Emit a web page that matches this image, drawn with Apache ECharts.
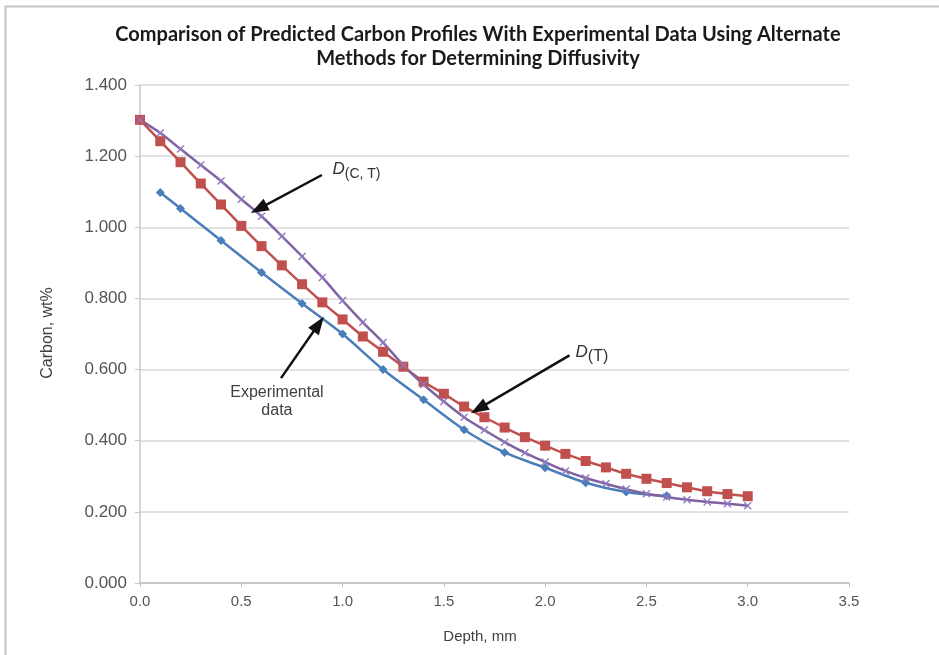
<!DOCTYPE html>
<html>
<head>
<meta charset="utf-8">
<script src="https://cdn.jsdelivr.net/npm/echarts@6/dist/echarts.min.js"></script>
<style>
  html, body { margin: 0; padding: 0; background: #fff; }
  #chart { width: 939px; height: 655px; }
</style>
</head>
<body>
<div id="chart"></div>
<script>
// depth, mm
var depthModel = [0.0, 0.1, 0.2, 0.3, 0.4, 0.5, 0.6, 0.7, 0.8, 0.9, 1.0, 1.1, 1.2, 1.3, 1.4, 1.5,
    1.6, 1.7, 1.8, 1.9, 2.0, 2.1, 2.2, 2.3, 2.4, 2.5, 2.6, 2.7, 2.8, 2.9, 3.0];
var depthExp = [0.1, 0.2, 0.4, 0.6, 0.8, 1.0, 1.2, 1.4, 1.6, 1.8, 2.0, 2.2, 2.4, 2.6];

// carbon, wt%
var carbonExp = [1.098, 1.053, 0.963, 0.873, 0.786, 0.700, 0.600, 0.515, 0.431, 0.367, 0.324, 0.282, 0.256, 0.245];
var carbonDT = [1.302, 1.242, 1.183, 1.123, 1.064, 1.004, 0.947, 0.893, 0.840, 0.789, 0.741, 0.693, 0.650, 0.608,
    0.566, 0.532, 0.496, 0.466, 0.437, 0.410, 0.386, 0.363, 0.343, 0.325, 0.307, 0.293, 0.281, 0.269, 0.258, 0.250, 0.244];
var carbonDCT = [1.302, 1.265, 1.220, 1.175, 1.130, 1.079, 1.031, 0.975, 0.918, 0.859, 0.794, 0.733, 0.676, 0.612,
    0.558, 0.510, 0.466, 0.430, 0.396, 0.366, 0.340, 0.315, 0.295, 0.279, 0.264, 0.251, 0.242, 0.234, 0.228, 0.223, 0.217];

var xTicks = ['0.0', '0.5', '1.0', '1.5', '2.0', '2.5', '3.0', '3.5'];
var yTicks = ['0.000', '0.200', '0.400', '0.600', '0.800', '1.000', '1.200', '1.400'];

// annotations: [from, to] in data coords
var arrowDCT = [[0.898, 1.147], [0.586, 1.052]];
var arrowExp = [[0.696, 0.576], [0.882, 0.728]];
var arrowDT = [[2.120, 0.640], [1.672, 0.490]];
var labelDCT = [0.950, 1.162];
var labelDT = [2.150, 0.648];
var labelExp = [0.676, 0.510];

function pairs(xs, ys) {
    var out = [];
    for (var i = 0; i < xs.length; i++) out.push([xs[i], ys[i]]);
    return out;
}

var FONT = "'Liberation Sans', Arial, sans-serif";
var xMarker = 'path://M0,1.2L1.2,0L5,3.8L8.8,0L10,1.2L6.2,5L10,8.8L8.8,10L5,6.2L1.2,10L0,8.8L3.8,5Z';
var chart = echarts.init(document.getElementById('chart'));

var option = {
    animation: false,
    backgroundColor: '#fff',
    grid: { left: 140, right: 90, top: 85, bottom: 72 },
    graphic: [
        {
            type: 'rect', silent: true, z: -1,
            shape: { x: 5.5, y: 6.5, width: 1200, height: 1200 },
            style: { fill: 'none', stroke: '#c4c4c4', lineWidth: 2 }
        },
        {
            type: 'text', x: 478, y: 23,
            style: {
                text: 'Comparison of Predicted Carbon Profiles With Experimental Data Using Alternate\nMethods for Determining Diffusivity',
                font: "bold 20px Lato, 'Noto Sans', sans-serif",
                fill: '#1a1a1a', textAlign: 'center', lineHeight: 24
            }
        },
        {
            type: 'text', x: 48, y: 333, rotation: Math.PI / 2,
            style: {
                text: 'Carbon, wt%', font: '16px ' + FONT, fill: '#404040',
                textAlign: 'center', textVerticalAlign: 'middle'
            }
        },
        {
            type: 'text', x: 480, y: 637,
            style: {
                text: 'Depth, mm', font: '15px ' + FONT, fill: '#404040',
                textAlign: 'center', textVerticalAlign: 'middle'
            }
        }
    ],
    xAxis: {
        type: 'value', min: 0, max: 3.5, interval: 0.5,
        axisLine: { lineStyle: { color: '#c0c0c0', width: 1.5 } },
        axisTick: { show: true, length: 4, lineStyle: { color: '#c0c0c0' } },
        axisLabel: {
            margin: 11, fontFamily: FONT, fontSize: 15, color: '#555',
            formatter: function (v) { return xTicks[Math.round(v / 0.5)]; }
        },
        splitLine: { show: false }
    },
    yAxis: {
        type: 'value', min: 0, max: 1.4, interval: 0.2,
        axisLine: { show: true, lineStyle: { color: '#c8c8c8', width: 1.5 } },
        axisTick: { show: true, length: 5, lineStyle: { color: '#c8c8c8' } },
        axisLabel: {
            margin: 13, fontFamily: FONT, fontSize: 17, color: '#555',
            formatter: function (v) { return yTicks[Math.round(v / 0.2)]; }
        },
        splitLine: { lineStyle: { color: '#d9d9d9', width: 1.5 } }
    },
    series: [
        {
            name: 'Experimental data', type: 'line', smooth: 0.3,
            data: pairs(depthExp, carbonExp),
            symbol: 'diamond', symbolSize: 9,
            itemStyle: { color: '#4a7ebb' },
            lineStyle: { color: '#4a7ebb', width: 2.5 },
            markLine: {
                silent: true, symbol: ['none', 'triangle'], symbolSize: [13, 18],
                label: { show: false },
                lineStyle: { color: '#111', width: 2.5, type: 'solid' },
                data: [
                    [{ coord: arrowDCT[0] }, { coord: arrowDCT[1] }],
                    [{ coord: arrowExp[0] }, { coord: arrowExp[1] }],
                    [{ coord: arrowDT[0] }, { coord: arrowDT[1] }]
                ]
            },
            markPoint: {
                silent: true, symbol: 'circle', symbolSize: 0,
                data: [
                    {
                        coord: labelDCT,
                        label: {
                            show: true, position: 'right', distance: 0,
                            formatter: '{d|D}{s|(C, T)}',
                            rich: {
                                d: { fontFamily: FONT, fontStyle: 'italic', fontSize: 17, color: '#333' },
                                s: { fontFamily: FONT, fontSize: 14, color: '#333', verticalAlign: 'bottom', padding: [9, 0, 0, 0] }
                            }
                        }
                    },
                    {
                        coord: labelDT,
                        label: {
                            show: true, position: 'right', distance: 0,
                            formatter: '{d|D}{s|(T)}',
                            rich: {
                                d: { fontFamily: FONT, fontStyle: 'italic', fontSize: 17, color: '#333' },
                                s: { fontFamily: FONT, fontSize: 16, color: '#333', verticalAlign: 'bottom', padding: [9, 0, 0, 0] }
                            }
                        }
                    },
                    {
                        coord: labelExp,
                        label: {
                            show: true, position: 'inside',
                            formatter: 'Experimental\ndata',
                            fontFamily: FONT, fontSize: 16, lineHeight: 18, color: '#404040', align: 'center'
                        }
                    }
                ]
            }
        },
        {
            name: 'D(T)', type: 'line', smooth: 0.3,
            data: pairs(depthModel, carbonDT),
            symbol: 'rect', symbolSize: 10,
            itemStyle: { color: '#c0504d' },
            lineStyle: { color: '#c0504d', width: 2.5 }
        },
        {
            name: 'D(C, T)', type: 'line', smooth: 0.3,
            data: pairs(depthModel, carbonDCT),
            symbol: xMarker, symbolSize: 8,
            itemStyle: { color: '#9078c0' },
            lineStyle: { color: '#8064a2', width: 2.5 }
        }
    ]
};
chart.setOption(option);
</script>
</body>
</html>
